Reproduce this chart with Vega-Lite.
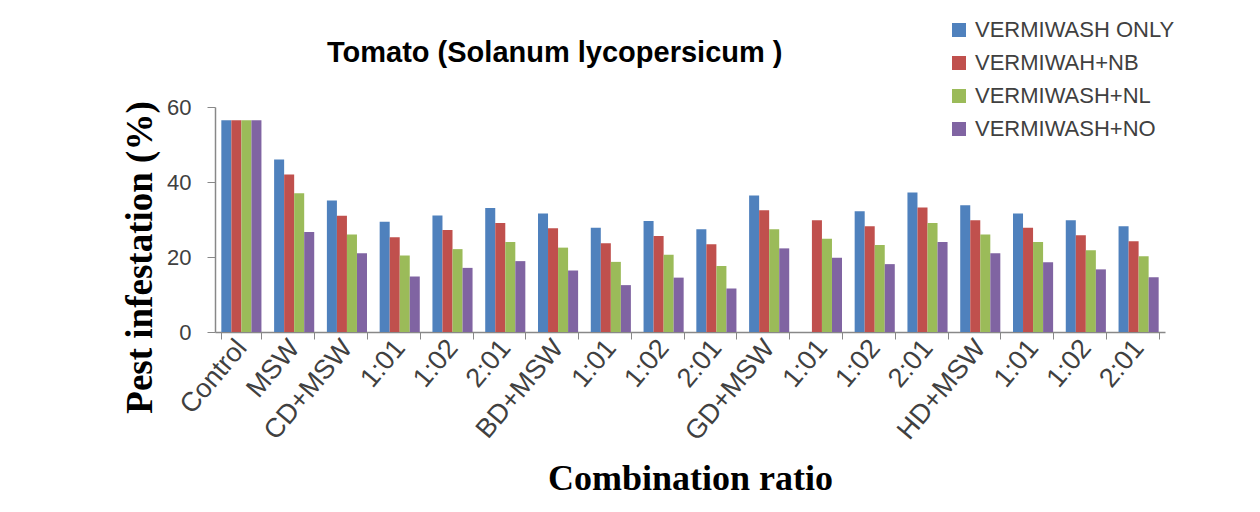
{
  "$schema": "https://vega.github.io/schema/vega-lite/v6.json",
  "autosize": {"type": "none"},
  "width": 950,
  "height": 225,
  "padding": {"left": 215, "top": 107, "right": 95, "bottom": 180},
  "background": "white",
  "title": {
    "text": "Tomato (Solanum lycopersicum )",
    "font": "Liberation Sans",
    "fontSize": 29,
    "fontWeight": "bold",
    "color": "#000000",
    "anchor": "start",
    "frame": "group",
    "baseline": "alphabetic",
    "dx": 112,
    "offset": -72
  },
  "data": {
    "values": [
      {"c": "00_Control", "s": "VERMIWASH ONLY", "v": 56.5},
      {"c": "00_Control", "s": "VERMIWAH+NB", "v": 56.5},
      {"c": "00_Control", "s": "VERMIWASH+NL", "v": 56.5},
      {"c": "00_Control", "s": "VERMIWASH+NO", "v": 56.5},
      {"c": "01_MSW", "s": "VERMIWASH ONLY", "v": 46},
      {"c": "01_MSW", "s": "VERMIWAH+NB", "v": 42},
      {"c": "01_MSW", "s": "VERMIWASH+NL", "v": 37},
      {"c": "01_MSW", "s": "VERMIWASH+NO", "v": 26.7},
      {"c": "02_CD+MSW", "s": "VERMIWASH ONLY", "v": 35.1},
      {"c": "02_CD+MSW", "s": "VERMIWAH+NB", "v": 31},
      {"c": "02_CD+MSW", "s": "VERMIWASH+NL", "v": 26},
      {"c": "02_CD+MSW", "s": "VERMIWASH+NO", "v": 21},
      {"c": "03_1:01", "s": "VERMIWASH ONLY", "v": 29.4},
      {"c": "03_1:01", "s": "VERMIWAH+NB", "v": 25.3},
      {"c": "03_1:01", "s": "VERMIWASH+NL", "v": 20.4},
      {"c": "03_1:01", "s": "VERMIWASH+NO", "v": 14.8},
      {"c": "04_1:02", "s": "VERMIWASH ONLY", "v": 31.1},
      {"c": "04_1:02", "s": "VERMIWAH+NB", "v": 27.2},
      {"c": "04_1:02", "s": "VERMIWASH+NL", "v": 22.1},
      {"c": "04_1:02", "s": "VERMIWASH+NO", "v": 17.1},
      {"c": "05_2:01", "s": "VERMIWASH ONLY", "v": 33.1},
      {"c": "05_2:01", "s": "VERMIWAH+NB", "v": 29.1},
      {"c": "05_2:01", "s": "VERMIWASH+NL", "v": 24},
      {"c": "05_2:01", "s": "VERMIWASH+NO", "v": 18.9},
      {"c": "06_BD+MSW", "s": "VERMIWASH ONLY", "v": 31.6},
      {"c": "06_BD+MSW", "s": "VERMIWAH+NB", "v": 27.7},
      {"c": "06_BD+MSW", "s": "VERMIWASH+NL", "v": 22.5},
      {"c": "06_BD+MSW", "s": "VERMIWASH+NO", "v": 16.4},
      {"c": "07_1:01", "s": "VERMIWASH ONLY", "v": 27.8},
      {"c": "07_1:01", "s": "VERMIWAH+NB", "v": 23.7},
      {"c": "07_1:01", "s": "VERMIWASH+NL", "v": 18.7},
      {"c": "07_1:01", "s": "VERMIWASH+NO", "v": 12.5},
      {"c": "08_1:02", "s": "VERMIWASH ONLY", "v": 29.6},
      {"c": "08_1:02", "s": "VERMIWAH+NB", "v": 25.6},
      {"c": "08_1:02", "s": "VERMIWASH+NL", "v": 20.6},
      {"c": "08_1:02", "s": "VERMIWASH+NO", "v": 14.5},
      {"c": "09_2:01", "s": "VERMIWASH ONLY", "v": 27.4},
      {"c": "09_2:01", "s": "VERMIWAH+NB", "v": 23.4},
      {"c": "09_2:01", "s": "VERMIWASH+NL", "v": 17.6},
      {"c": "09_2:01", "s": "VERMIWASH+NO", "v": 11.6},
      {"c": "10_GD+MSW", "s": "VERMIWASH ONLY", "v": 36.4},
      {"c": "10_GD+MSW", "s": "VERMIWAH+NB", "v": 32.5},
      {"c": "10_GD+MSW", "s": "VERMIWASH+NL", "v": 27.4},
      {"c": "10_GD+MSW", "s": "VERMIWASH+NO", "v": 22.3},
      {"c": "11_1:01", "s": "VERMIWASH ONLY", "v": 0},
      {"c": "11_1:01", "s": "VERMIWAH+NB", "v": 29.8},
      {"c": "11_1:01", "s": "VERMIWASH+NL", "v": 24.9},
      {"c": "11_1:01", "s": "VERMIWASH+NO", "v": 19.8},
      {"c": "12_1:02", "s": "VERMIWASH ONLY", "v": 32.2},
      {"c": "12_1:02", "s": "VERMIWAH+NB", "v": 28.2},
      {"c": "12_1:02", "s": "VERMIWASH+NL", "v": 23.2},
      {"c": "12_1:02", "s": "VERMIWASH+NO", "v": 18.1},
      {"c": "13_2:01", "s": "VERMIWASH ONLY", "v": 37.2},
      {"c": "13_2:01", "s": "VERMIWAH+NB", "v": 33.2},
      {"c": "13_2:01", "s": "VERMIWASH+NL", "v": 29.1},
      {"c": "13_2:01", "s": "VERMIWASH+NO", "v": 24},
      {"c": "14_HD+MSW", "s": "VERMIWASH ONLY", "v": 33.8},
      {"c": "14_HD+MSW", "s": "VERMIWAH+NB", "v": 29.8},
      {"c": "14_HD+MSW", "s": "VERMIWASH+NL", "v": 26},
      {"c": "14_HD+MSW", "s": "VERMIWASH+NO", "v": 21},
      {"c": "15_1:01", "s": "VERMIWASH ONLY", "v": 31.6},
      {"c": "15_1:01", "s": "VERMIWAH+NB", "v": 27.8},
      {"c": "15_1:01", "s": "VERMIWASH+NL", "v": 24},
      {"c": "15_1:01", "s": "VERMIWASH+NO", "v": 18.6},
      {"c": "16_1:02", "s": "VERMIWASH ONLY", "v": 29.8},
      {"c": "16_1:02", "s": "VERMIWAH+NB", "v": 25.8},
      {"c": "16_1:02", "s": "VERMIWASH+NL", "v": 21.8},
      {"c": "16_1:02", "s": "VERMIWASH+NO", "v": 16.7},
      {"c": "17_2:01", "s": "VERMIWASH ONLY", "v": 28.2},
      {"c": "17_2:01", "s": "VERMIWAH+NB", "v": 24.2},
      {"c": "17_2:01", "s": "VERMIWASH+NL", "v": 20.2},
      {"c": "17_2:01", "s": "VERMIWASH+NO", "v": 14.6}
    ]
  },
  "mark": {"type": "bar"},
  "encoding": {
    "x": {
      "field": "c",
      "type": "nominal",
      "sort": null,
      "scale": {"paddingInner": 0.24, "paddingOuter": 0.12},
      "axis": {
        "title": "Combination ratio",
        "titleFont": "Liberation Serif",
        "titleFontSize": 36,
        "titleFontWeight": "bold",
        "titleColor": "#000000",
        "titleBaseline": "middle",
        "titleY": 146,
        "labelExpr": "split(datum.value, '_')[1]",
        "labelAngle": -50,
        "labelAlign": "right",
        "labelBaseline": "middle",
        "labelFont": "Liberation Sans",
        "labelFontSize": 27,
        "labelColor": "#404040",
        "labelPadding": 4,
        "tickBand": "extent",
        "tickSize": 7,
        "tickColor": "#888888",
        "domainColor": "#888888",
        "domainWidth": 1.5
      }
    },
    "xOffset": {
      "field": "s",
      "type": "nominal",
      "sort": ["VERMIWASH ONLY", "VERMIWAH+NB", "VERMIWASH+NL", "VERMIWASH+NO"],
      "scale": {"paddingInner": 0, "paddingOuter": 0}
    },
    "y": {
      "field": "v",
      "type": "quantitative",
      "scale": {"domain": [0, 60], "nice": false},
      "axis": {
        "title": "Pest infestation (%)",
        "titleFont": "Liberation Serif",
        "titleFontSize": 37,
        "titleFontWeight": "bold",
        "titleColor": "#000000",
        "titleAngle": -90,
        "titleAlign": "center",
        "titleBaseline": "middle",
        "titleX": -75,
        "titleY": 150,
        "values": [0, 20, 40, 60],
        "grid": false,
        "labelFont": "Liberation Sans",
        "labelFontSize": 22,
        "labelColor": "#404040",
        "labelPadding": 16,
        "tickSize": 8,
        "tickColor": "#888888",
        "domainColor": "#888888",
        "domainWidth": 1.5
      }
    },
    "color": {
      "field": "s",
      "type": "nominal",
      "sort": ["VERMIWASH ONLY", "VERMIWAH+NB", "VERMIWASH+NL", "VERMIWASH+NO"],
      "scale": {
        "domain": ["VERMIWASH ONLY", "VERMIWAH+NB", "VERMIWASH+NL", "VERMIWASH+NO"],
        "range": ["#4F81BD", "#C0504D", "#9BBB59", "#8064A2"]
      },
      "legend": {
        "title": null,
        "orient": "none",
        "legendX": 733,
        "legendY": -88,
        "symbolType": "square",
        "symbolSize": 196,
        "symbolStrokeWidth": 0,
        "labelFont": "Liberation Sans",
        "labelFontSize": 22,
        "labelColor": "#404040",
        "labelOffset": 5,
        "rowPadding": 11,
        "labelLimit": 400
      }
    }
  },
  "config": {
    "view": {"stroke": null}
  }
}
